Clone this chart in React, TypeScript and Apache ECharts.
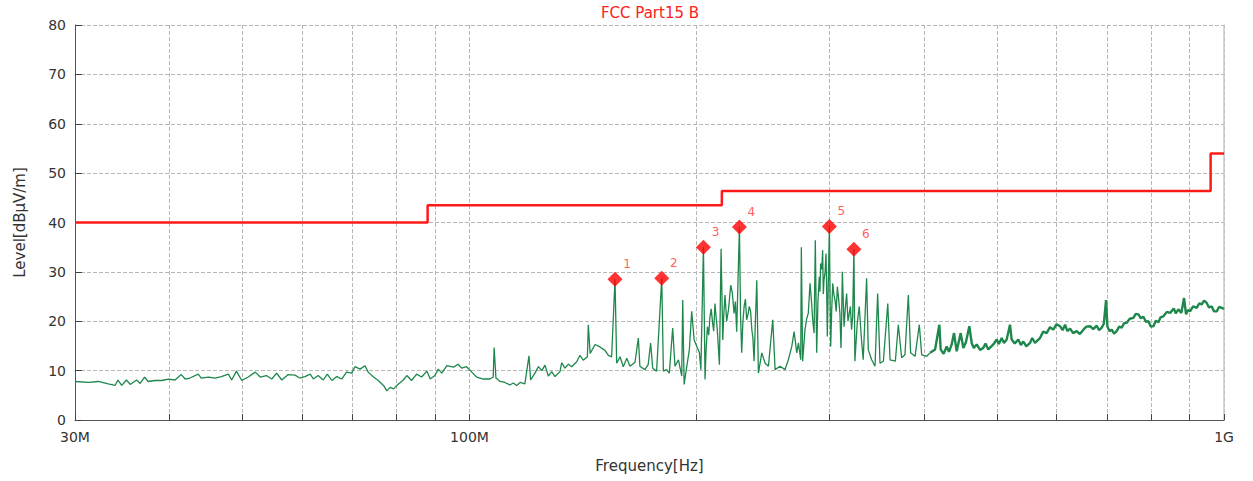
import React, { useEffect, useRef } from 'react';
import * as echarts from 'echarts';

const TITLE = 'FCC Part15 B';
const X_NAME = 'Frequency[Hz]';
const Y_NAME = 'Level[dBμV/m]';

const xLabelFreqs = [30, 100, 1000];
const xLabelTexts = ['30M', '100M', '1G'];
const gridFreqs = [30, 40, 50, 60, 70, 80, 90, 100, 200, 300, 400, 500, 600, 700, 800, 900, 1000];

const limitFreqs = [30, 88, 216, 960, 1000];
const limitLevels = [40, 43.5, 46.4, 54, 54];

const markerNames = ['1', '2', '3', '4', '5', '6'];
const markerFreqs = [155.9, 179.8, 204.2, 227.9, 299.9, 323.2];
const markerLevels = [28.5, 28.7, 35.0, 39.1, 39.2, 34.6];

// measured trace, [MHz, dBμV/m], 30 MHz – 400 MHz
const traceLow: [number, number][] = [
  [30.0, 7.8], [31.3, 7.6], [32.2, 7.8], [33.2, 7.3], [33.9, 7.0], [34.2, 8.1], [34.6, 7.0], [35.1, 8.1],
  [35.5, 7.2], [36.2, 8.1], [36.6, 7.4], [37.1, 8.7], [37.5, 7.8], [38.3, 8.0], [39.1, 8.0], [39.9, 8.3],
  [40.7, 8.1], [41.5, 9.2], [42.0, 8.3], [42.6, 8.5], [43.7, 9.3], [44.1, 8.5], [45.1, 8.7], [46.0, 8.5],
  [46.9, 8.8], [47.9, 9.3], [48.4, 8.1], [49.1, 9.9], [49.9, 8.0], [50.9, 8.7], [52.0, 9.7], [52.8, 8.7],
  [53.8, 9.0], [54.7, 8.3], [55.5, 9.5], [56.4, 8.1], [57.5, 9.2], [58.7, 9.1], [59.6, 8.5], [60.5, 8.8],
  [61.5, 9.3], [62.1, 8.3], [63.0, 9.0], [64.0, 8.1], [64.8, 9.3], [65.7, 8.0], [66.7, 8.8], [67.7, 8.3],
  [68.7, 9.7], [69.8, 9.5], [70.5, 10.8], [71.6, 10.3], [72.7, 11.0], [73.4, 9.7], [74.6, 8.7], [75.7, 8.0],
  [76.9, 7.0], [77.7, 5.9], [78.5, 6.6], [79.3, 6.3], [80.5, 7.3], [81.7, 8.1], [82.6, 9.0], [83.8, 8.0],
  [85.1, 9.3], [86.4, 8.7], [87.8, 9.9], [88.7, 8.3], [90.0, 9.0], [90.9, 10.3], [91.9, 9.5], [93.3, 11.0],
  [95.2, 10.7], [96.6, 11.3], [97.6, 10.5], [99.1, 10.8], [100.7, 9.7], [102.2, 8.7], [104.3, 8.3], [106.4, 8.3],
  [107.5, 8.7], [107.8, 14.7], [108.4, 8.5], [109.8, 7.8], [111.4, 7.6], [113.1, 7.1], [114.3, 7.5], [115.5, 7.0],
  [116.7, 7.6], [118.4, 7.3], [119.9, 13.0], [120.5, 8.1], [122.1, 9.5], [123.4, 10.8], [124.7, 10.0], [125.9, 11.1],
  [127.2, 8.9], [128.5, 9.8], [129.8, 8.8], [131.8, 9.8], [132.5, 11.6], [133.8, 10.5], [135.2, 11.3], [136.6, 10.8],
  [138.7, 11.8], [140.1, 13.1], [141.5, 12.1], [143.3, 12.8], [143.7, 19.3], [144.5, 13.5], [146.7, 15.3], [148.9, 14.8],
  [151.2, 14.1], [152.8, 13.1], [154.3, 12.8], [155.9, 28.5], [156.7, 11.5], [158.3, 12.8], [159.9, 10.8], [161.6, 12.5],
  [163.2, 10.9], [165.7, 11.7], [167.4, 16.6], [168.2, 10.9], [170.8, 10.2], [172.5, 11.2], [173.8, 15.6], [174.9, 10.5],
  [177.0, 9.9], [179.8, 28.7], [180.7, 9.9], [182.5, 10.2], [184.0, 9.5], [185.9, 18.6], [187.2, 10.9], [189.2, 12.2],
  [191.1, 8.9], [191.7, 24.3], [192.5, 7.2], [194.1, 10.9], [195.6, 14.2], [197.0, 22.0], [198.5, 16.2], [200.1, 14.9],
  [201.7, 13.6], [202.6, 10.2], [204.2, 35.0], [205.2, 8.2], [205.9, 14.5], [206.7, 18.9], [207.5, 17.2], [208.3, 20.9],
  [209.1, 22.5], [210.0, 19.6], [210.7, 18.0], [211.5, 23.6], [212.2, 21.0], [213.0, 18.3], [214.4, 11.2], [215.5, 34.7],
  [216.6, 16.2], [217.3, 21.5], [218.1, 25.3], [219.2, 20.0], [220.4, 22.3], [221.1, 24.5], [221.9, 27.3], [223.0, 25.8],
  [224.2, 21.6], [225.1, 24.0], [226.0, 17.9], [227.9, 39.1], [228.7, 21.0], [229.5, 13.6], [230.3, 19.8], [231.2, 23.0],
  [232.1, 24.5], [233.0, 20.3], [234.0, 21.5], [234.9, 23.0], [235.8, 22.0], [236.7, 18.3], [237.5, 16.5], [238.3, 11.9],
  [240.3, 28.3], [241.5, 9.5], [244.0, 13.6], [246.5, 11.5], [249.0, 10.9], [252.3, 20.3], [254.1, 10.2], [258.0, 10.9],
  [261.9, 10.2], [264.6, 12.2], [267.4, 14.9], [269.3, 17.9], [271.5, 13.6], [272.9, 15.6], [274.8, 12.2], [275.3, 35.0],
  [276.4, 11.9], [278.4, 18.3], [279.8, 20.5], [281.2, 21.6], [282.7, 27.7], [283.8, 24.5], [285.0, 20.3], [286.2, 17.6],
  [287.3, 36.4], [288.5, 13.6], [289.6, 24.0], [290.8, 29.0], [291.4, 26.0], [292.0, 31.7], [293.0, 30.5], [293.8, 34.4],
  [294.4, 25.5], [295.0, 28.3], [296.0, 30.0], [296.8, 33.7], [297.4, 27.0], [298.0, 16.9], [299.9, 39.2], [300.5, 26.0],
  [301.1, 14.9], [302.0, 22.0], [303.0, 27.7], [304.0, 25.5], [305.1, 24.3], [306.2, 22.0], [307.3, 27.0], [308.5, 24.5],
  [309.7, 21.6], [310.7, 14.6], [311.3, 20.0], [312.0, 30.0], [313.6, 18.9], [314.8, 22.5], [316.1, 25.6], [317.4, 20.0],
  [318.7, 21.6], [319.8, 23.0], [320.9, 18.3], [322.0, 21.0], [323.2, 34.6], [324.2, 11.9], [326.5, 19.6], [328.5, 23.0],
  [330.8, 16.2], [332.5, 12.2], [336.0, 28.7], [337.7, 14.2], [341.2, 12.2], [344.7, 10.9], [347.5, 25.6], [350.0, 11.5],
  [353.6, 11.9], [358.4, 23.6], [360.9, 12.2], [366.8, 11.9], [370.1, 19.3], [373.9, 12.6], [377.7, 13.2], [381.6, 25.3],
  [384.3, 13.6], [389.5, 12.9], [394.6, 19.3], [397.5, 13.2], [403.6, 12.9], [407.8, 13.6],
];

// measured trace, [MHz, dBμV/m], 400 MHz – 1 GHz (dense noise band)
const traceHigh: [number, number][] = [
  [407.8, 13.6], [414.1, 14.3], [419.5, 19.3], [421.2, 14.3], [425.0, 13.4], [429.0, 14.9], [432.0, 13.8], [435.6, 15.3],
  [438.7, 17.6], [442.3, 13.9], [447.7, 17.6], [451.4, 14.6], [455.0, 15.8], [459.7, 19.0], [463.0, 15.6], [466.0, 14.6],
  [470.1, 15.3], [475.0, 14.2], [479.7, 14.6], [483.0, 15.5], [487.0, 14.3], [494.6, 15.3], [499.7, 16.3], [503.0, 15.4],
  [507.4, 16.6], [511.0, 15.6], [515.2, 16.3], [520.4, 19.3], [523.1, 16.3], [528.0, 15.5], [533.8, 16.3], [538.0, 15.2],
  [542.1, 15.9], [547.0, 14.9], [553.2, 15.6], [557.0, 16.6], [561.7, 15.6], [570.3, 16.6], [576.0, 17.9], [582.0, 17.6],
  [588.0, 18.8], [594.0, 18.3], [600.0, 19.4], [606.3, 19.0], [611.0, 18.2], [615.7, 19.3], [620.0, 18.0], [625.2, 18.5],
  [631.0, 17.6], [638.0, 18.0], [644.0, 17.4], [651.1, 18.3], [657.0, 18.9], [664.6, 19.0], [671.0, 18.4], [678.1, 19.1],
  [683.0, 18.2], [688.5, 18.7], [693.0, 19.5], [697.7, 24.3], [700.5, 19.0], [705.0, 18.0], [709.9, 18.3], [715.0, 17.5],
  [720.8, 18.0], [726.0, 18.9], [731.9, 18.7], [737.0, 19.6], [743.2, 19.7], [750.0, 20.5], [758.4, 20.7], [764.0, 21.5],
  [770.1, 21.4], [776.0, 20.6], [781.9, 20.9], [788.0, 19.9], [794.0, 20.0], [800.0, 18.9], [806.2, 19.0], [812.0, 20.1],
  [818.6, 19.8], [824.0, 20.8], [831.1, 21.0], [840.0, 21.9], [848.3, 21.7], [858.0, 22.6], [863.0, 21.6], [870.1, 22.4],
  [878.0, 21.7], [885.2, 24.7], [890.6, 21.4], [896.0, 22.3], [901.6, 22.0], [910.0, 23.0], [920.1, 22.7], [927.0, 23.6],
  [934.3, 23.4], [941.0, 24.2], [948.6, 23.7], [955.0, 22.8], [963.3, 23.0], [970.0, 22.0], [978.1, 22.0], [985.0, 22.9],
  [993.1, 22.7], [1000.0, 22.5],
];

const lg = (f: number) => Math.log10(f);

export default function App() {
  const ref = useRef<HTMLDivElement>(null);

  useEffect(() => {
    if (!ref.current) return;
    const chart = echarts.init(ref.current, undefined, { renderer: 'svg' });
    const font = 'DejaVu Sans';
    const traceColor = '#1e874b';

    const option: any = {
      animation: false,
      backgroundColor: '#ffffff',
      textStyle: { fontFamily: font },
      grid: { left: 75, right: 29, top: 25, bottom: 61, containLabel: false },
      graphic: [
        {
          type: 'text',
          x: 650,
          y: 13,
          style: {
            text: TITLE,
            fill: '#ff2020',
            font: `15px "${font}"`,
            textAlign: 'center',
            textVerticalAlign: 'middle',
          },
        },
      ],
      xAxis: {
        type: 'value',
        min: lg(30),
        max: 3,
        name: X_NAME,
        nameLocation: 'middle',
        nameGap: 38,
        nameTextStyle: { fontSize: 15, color: '#333', fontFamily: font },
        axisLine: { show: true, lineStyle: { color: '#555', width: 1 } },
        axisTick: {
          show: true,
          inside: true,
          length: 6,
          customValues: gridFreqs.map(lg),
          lineStyle: { color: '#444' },
        },
        axisLabel: {
          customValues: xLabelFreqs.map(lg),
          fontSize: 14,
          color: '#333',
          margin: 10,
          fontFamily: font,
          formatter: (v: number) => {
            const i = xLabelFreqs.findIndex((f) => Math.abs(lg(f) - v) < 1e-6);
            return i >= 0 ? xLabelTexts[i] : '';
          },
        },
        splitLine: {
          show: true,
          lineStyle: { color: '#b8b8b8', type: [4, 2], width: 1 },
        },
      },
      yAxis: [
        {
          type: 'value',
          min: 0,
          max: 80,
          interval: 10,
          name: Y_NAME,
          nameLocation: 'middle',
          nameGap: 48,
          nameTextStyle: { fontSize: 15, color: '#333', fontFamily: font },
          axisLine: { show: true, lineStyle: { color: '#555', width: 1 } },
          axisTick: { show: true, inside: true, length: 7, lineStyle: { color: '#444' } },
          axisLabel: { fontSize: 14, color: '#333', margin: 9, fontFamily: font },
          splitLine: { show: true, lineStyle: { color: '#b8b8b8', type: [4, 2], width: 1 } },
        },
        {
          type: 'value',
          min: 0,
          max: 80,
          position: 'right',
          axisLine: { show: true, lineStyle: { color: '#c8c8c8', width: 1.5 } },
          axisTick: { show: false },
          axisLabel: { show: false },
          splitLine: { show: false },
        },
      ],
      series: [
        {
          name: 'traceLow',
          type: 'line',
          data: traceLow.map(([f, v]) => [lg(f), v]),
          showSymbol: false,
          symbol: 'none',
          lineStyle: { color: traceColor, width: 1.3 },
          z: 2,
        },
        {
          name: 'traceHigh',
          type: 'line',
          data: traceHigh.map(([f, v]) => [lg(f), v]),
          showSymbol: false,
          symbol: 'none',
          lineStyle: { color: traceColor, width: 2.4 },
          z: 2,
        },
        {
          name: 'limit',
          type: 'line',
          step: 'end',
          data: limitFreqs.map((f, i) => [lg(f), limitLevels[i]]),
          showSymbol: false,
          symbol: 'none',
          lineStyle: { color: '#ff1a1a', width: 2.5 },
          z: 3,
        },
        {
          name: 'markers',
          type: 'scatter',
          data: markerFreqs.map((f, i) => ({ name: markerNames[i], value: [lg(f), markerLevels[i]] })),
          symbol: 'diamond',
          symbolSize: 15,
          itemStyle: { color: '#ff0000' },
          label: {
            show: true,
            formatter: '{b}',
            position: 'inside',
            offset: [12, -15],
            color: '#ff3333',
            fontSize: 12,
            fontFamily: font,
          },
          z: 4,
        },
      ],
    };

    chart.setOption(option);
    return () => chart.dispose();
  }, []);

  return (
    <div
      ref={ref}
      style={{ position: 'fixed', left: 0, top: 0, width: 1253, height: 481, background: '#fff' }}
    />
  );
}
